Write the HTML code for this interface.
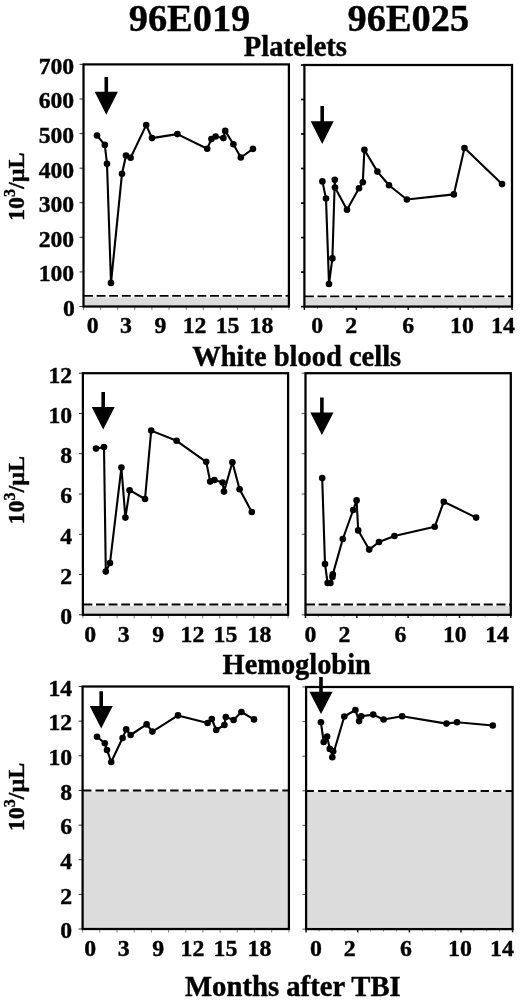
<!DOCTYPE html>
<html lang="en"><head><meta charset="utf-8"><title>Blood counts after TBI</title>
<style>html,body{margin:0;padding:0;background:#fff}body{width:520px;height:1001px;overflow:hidden}svg{display:block}text{font-family:"Liberation Serif","DejaVu Serif",serif;font-weight:bold;fill:#000;stroke:#000;stroke-width:0.4px;stroke-linejoin:round}</style>
</head><body>
<svg width="520" height="1001" viewBox="0 0 520 1001">
<rect width="520" height="1001" fill="#fff"/>
<g>
<rect x="83.5" y="297.4" width="205.4" height="9.1" fill="#dcdcdc"/>
<line x1="83.5" x2="288.9" y1="295.9" y2="295.9" stroke="#000" stroke-width="1.8" stroke-dasharray="8.9 3.7" stroke-dashoffset="-0.5"/>
<line x1="79.5" x2="83.5" y1="64.4" y2="64.4" stroke="#333" stroke-width="1"/>
<line x1="79.5" x2="83.5" y1="99.0" y2="99.0" stroke="#333" stroke-width="1"/>
<line x1="79.5" x2="83.5" y1="133.6" y2="133.6" stroke="#333" stroke-width="1"/>
<line x1="79.5" x2="83.5" y1="168.2" y2="168.2" stroke="#333" stroke-width="1"/>
<line x1="79.5" x2="83.5" y1="202.7" y2="202.7" stroke="#333" stroke-width="1"/>
<line x1="79.5" x2="83.5" y1="237.3" y2="237.3" stroke="#333" stroke-width="1"/>
<line x1="79.5" x2="83.5" y1="271.9" y2="271.9" stroke="#333" stroke-width="1"/>
<line x1="79.5" x2="83.5" y1="306.5" y2="306.5" stroke="#333" stroke-width="1"/>
<line x1="83.5" x2="83.5" y1="306.5" y2="310.1" stroke="#666" stroke-width="0.8"/>
<line x1="100.6" x2="100.6" y1="306.5" y2="310.1" stroke="#666" stroke-width="0.8"/>
<line x1="117.7" x2="117.7" y1="306.5" y2="310.1" stroke="#666" stroke-width="0.8"/>
<line x1="134.8" x2="134.8" y1="306.5" y2="310.1" stroke="#666" stroke-width="0.8"/>
<line x1="151.9" x2="151.9" y1="306.5" y2="310.1" stroke="#666" stroke-width="0.8"/>
<line x1="169.0" x2="169.0" y1="306.5" y2="310.1" stroke="#666" stroke-width="0.8"/>
<line x1="186.2" x2="186.2" y1="306.5" y2="310.1" stroke="#666" stroke-width="0.8"/>
<line x1="203.3" x2="203.3" y1="306.5" y2="310.1" stroke="#666" stroke-width="0.8"/>
<line x1="220.4" x2="220.4" y1="306.5" y2="310.1" stroke="#666" stroke-width="0.8"/>
<line x1="237.5" x2="237.5" y1="306.5" y2="310.1" stroke="#666" stroke-width="0.8"/>
<line x1="254.6" x2="254.6" y1="306.5" y2="310.1" stroke="#666" stroke-width="0.8"/>
<line x1="271.7" x2="271.7" y1="306.5" y2="310.1" stroke="#666" stroke-width="0.8"/>
<line x1="288.9" x2="288.9" y1="306.5" y2="310.1" stroke="#666" stroke-width="0.8"/>
<rect x="83.5" y="64.4" width="205.4" height="242.1" fill="none" stroke="#000" stroke-width="2.25"/>
<polyline fill="none" stroke="#000" stroke-width="2.1" stroke-linejoin="round" points="97.0,135.5 104.8,144.9 107.0,163.7 111.0,282.9 122.0,173.7 126.0,155.5 130.6,157.7 146.2,125.1 152.0,138.1 177.4,134.1 207.2,148.7 211.4,139.1 215.6,136.5 223.4,138.1 225.2,130.9 233.4,144.3 240.8,157.5 253.0,148.9"/>
<circle cx="97.0" cy="135.5" r="3.3"/>
<circle cx="104.8" cy="144.9" r="3.3"/>
<circle cx="107.0" cy="163.7" r="3.3"/>
<circle cx="111.0" cy="282.9" r="3.3"/>
<circle cx="122.0" cy="173.7" r="3.3"/>
<circle cx="126.0" cy="155.5" r="3.3"/>
<circle cx="130.6" cy="157.7" r="3.3"/>
<circle cx="146.2" cy="125.1" r="3.3"/>
<circle cx="152.0" cy="138.1" r="3.3"/>
<circle cx="177.4" cy="134.1" r="3.3"/>
<circle cx="207.2" cy="148.7" r="3.3"/>
<circle cx="211.4" cy="139.1" r="3.3"/>
<circle cx="215.6" cy="136.5" r="3.3"/>
<circle cx="223.4" cy="138.1" r="3.3"/>
<circle cx="225.2" cy="130.9" r="3.3"/>
<circle cx="233.4" cy="144.3" r="3.3"/>
<circle cx="240.8" cy="157.5" r="3.3"/>
<circle cx="253.0" cy="148.9" r="3.3"/>
<path d="M104.5 77.0H108.1V91.7H117.9L106.3 114.8L94.7 91.7H104.5Z"/>
<text x="92.7" y="333.3" font-size="23.8" text-anchor="middle">0</text>
<text x="125.9" y="333.3" font-size="23.8" text-anchor="middle">3</text>
<text x="160.4" y="333.3" font-size="23.8" text-anchor="middle">9</text>
<text x="194.6" y="333.3" font-size="23.8" text-anchor="middle">12</text>
<text x="227.6" y="333.3" font-size="23.8" text-anchor="middle">15</text>
<text x="261.5" y="333.3" font-size="23.8" text-anchor="middle">18</text>
<text x="74.2" y="73.7" font-size="23.7" text-anchor="end">700</text>
<text x="74.2" y="108.3" font-size="23.7" text-anchor="end">600</text>
<text x="74.2" y="142.9" font-size="23.7" text-anchor="end">500</text>
<text x="74.2" y="177.5" font-size="23.7" text-anchor="end">400</text>
<text x="74.2" y="212.0" font-size="23.7" text-anchor="end">300</text>
<text x="74.2" y="246.6" font-size="23.7" text-anchor="end">200</text>
<text x="74.2" y="281.2" font-size="23.7" text-anchor="end">100</text>
<text x="74.9" y="315.8" font-size="23.7" text-anchor="end">0</text>
<text transform="translate(23.9 186.7) rotate(-90)" font-size="23.9" text-anchor="middle">10<tspan font-size="16.3" dy="-8.5">3</tspan><tspan dy="8.5">/µL</tspan></text>
</g>
<g>
<rect x="304.4" y="297.8" width="207.6" height="8.8" fill="#dcdcdc"/>
<line x1="304.4" x2="512.0" y1="296.3" y2="296.3" stroke="#000" stroke-width="1.8" stroke-dasharray="9.1 3.6" stroke-dashoffset="-0.4"/>
<line x1="301.0" x2="304.4" y1="65.0" y2="65.0" stroke="#000" stroke-width="1.7"/>
<line x1="301.0" x2="304.4" y1="99.5" y2="99.5" stroke="#000" stroke-width="1.7"/>
<line x1="301.0" x2="304.4" y1="134.0" y2="134.0" stroke="#000" stroke-width="1.7"/>
<line x1="301.0" x2="304.4" y1="168.5" y2="168.5" stroke="#000" stroke-width="1.7"/>
<line x1="301.0" x2="304.4" y1="203.1" y2="203.1" stroke="#000" stroke-width="1.7"/>
<line x1="301.0" x2="304.4" y1="237.6" y2="237.6" stroke="#000" stroke-width="1.7"/>
<line x1="301.0" x2="304.4" y1="272.1" y2="272.1" stroke="#000" stroke-width="1.7"/>
<line x1="301.0" x2="304.4" y1="306.6" y2="306.6" stroke="#000" stroke-width="1.7"/>
<line x1="304.4" x2="304.4" y1="306.6" y2="309.9" stroke="#111" stroke-width="1.5"/>
<line x1="317.4" x2="317.4" y1="306.6" y2="309.0" stroke="#777" stroke-width="0.8"/>
<line x1="330.3" x2="330.3" y1="306.6" y2="309.0" stroke="#777" stroke-width="0.8"/>
<line x1="343.3" x2="343.3" y1="306.6" y2="309.0" stroke="#777" stroke-width="0.8"/>
<line x1="356.3" x2="356.3" y1="306.6" y2="309.9" stroke="#111" stroke-width="1.5"/>
<line x1="369.3" x2="369.3" y1="306.6" y2="309.0" stroke="#777" stroke-width="0.8"/>
<line x1="382.2" x2="382.2" y1="306.6" y2="309.0" stroke="#777" stroke-width="0.8"/>
<line x1="395.2" x2="395.2" y1="306.6" y2="309.0" stroke="#777" stroke-width="0.8"/>
<line x1="408.2" x2="408.2" y1="306.6" y2="309.9" stroke="#111" stroke-width="1.5"/>
<line x1="421.2" x2="421.2" y1="306.6" y2="309.0" stroke="#777" stroke-width="0.8"/>
<line x1="434.1" x2="434.1" y1="306.6" y2="309.0" stroke="#777" stroke-width="0.8"/>
<line x1="447.1" x2="447.1" y1="306.6" y2="309.0" stroke="#777" stroke-width="0.8"/>
<line x1="460.1" x2="460.1" y1="306.6" y2="309.9" stroke="#111" stroke-width="1.5"/>
<line x1="473.1" x2="473.1" y1="306.6" y2="309.0" stroke="#777" stroke-width="0.8"/>
<line x1="486.1" x2="486.1" y1="306.6" y2="309.0" stroke="#777" stroke-width="0.8"/>
<line x1="499.0" x2="499.0" y1="306.6" y2="309.0" stroke="#777" stroke-width="0.8"/>
<line x1="512.0" x2="512.0" y1="306.6" y2="309.9" stroke="#111" stroke-width="1.5"/>
<rect x="304.4" y="65.0" width="207.6" height="241.6" fill="none" stroke="#000" stroke-width="2.25"/>
<polyline fill="none" stroke="#000" stroke-width="2.1" stroke-linejoin="round" points="322.4,181.4 326.0,198.6 329.0,284.0 332.4,258.4 334.8,179.8 335.0,187.6 347.0,209.8 359.0,188.2 362.8,182.2 364.4,149.8 377.4,171.6 389.0,185.2 406.9,199.5 453.8,194.4 464.5,148.0 502.0,184.1"/>
<circle cx="322.4" cy="181.4" r="3.3"/>
<circle cx="326.0" cy="198.6" r="3.3"/>
<circle cx="329.0" cy="284.0" r="3.3"/>
<circle cx="332.4" cy="258.4" r="3.3"/>
<circle cx="334.8" cy="179.8" r="3.3"/>
<circle cx="335.0" cy="187.6" r="3.3"/>
<circle cx="347.0" cy="209.8" r="3.3"/>
<circle cx="359.0" cy="188.2" r="3.3"/>
<circle cx="362.8" cy="182.2" r="3.3"/>
<circle cx="364.4" cy="149.8" r="3.3"/>
<circle cx="377.4" cy="171.6" r="3.3"/>
<circle cx="389.0" cy="185.2" r="3.3"/>
<circle cx="406.9" cy="199.5" r="3.3"/>
<circle cx="453.8" cy="194.4" r="3.3"/>
<circle cx="464.5" cy="148.0" r="3.3"/>
<circle cx="502.0" cy="184.1" r="3.3"/>
<path d="M320.4 106.0H324.0V121.2H333.7L322.2 144.0L310.7 121.2H320.4Z"/>
<text x="317.1" y="333.3" font-size="23.8" text-anchor="middle">0</text>
<text x="351.2" y="333.3" font-size="23.8" text-anchor="middle">2</text>
<text x="408.1" y="333.3" font-size="23.8" text-anchor="middle">6</text>
<text x="462.0" y="333.3" font-size="23.8" text-anchor="middle">10</text>
<text x="503.0" y="333.3" font-size="23.8" text-anchor="middle">14</text>
</g>
<g>
<rect x="82.9" y="606.0" width="205.2" height="8.8" fill="#dcdcdc"/>
<line x1="82.9" x2="288.1" y1="604.5" y2="604.5" stroke="#000" stroke-width="1.8" stroke-dasharray="8.9 3.7" stroke-dashoffset="-0.5"/>
<line x1="78.9" x2="82.9" y1="373.2" y2="373.2" stroke="#333" stroke-width="1"/>
<line x1="78.9" x2="82.9" y1="413.5" y2="413.5" stroke="#333" stroke-width="1"/>
<line x1="78.9" x2="82.9" y1="453.7" y2="453.7" stroke="#333" stroke-width="1"/>
<line x1="78.9" x2="82.9" y1="494.0" y2="494.0" stroke="#333" stroke-width="1"/>
<line x1="78.9" x2="82.9" y1="534.3" y2="534.3" stroke="#333" stroke-width="1"/>
<line x1="78.9" x2="82.9" y1="574.5" y2="574.5" stroke="#333" stroke-width="1"/>
<line x1="78.9" x2="82.9" y1="614.8" y2="614.8" stroke="#333" stroke-width="1"/>
<line x1="82.9" x2="82.9" y1="614.8" y2="618.4" stroke="#666" stroke-width="0.8"/>
<line x1="100.0" x2="100.0" y1="614.8" y2="618.4" stroke="#666" stroke-width="0.8"/>
<line x1="117.1" x2="117.1" y1="614.8" y2="618.4" stroke="#666" stroke-width="0.8"/>
<line x1="134.2" x2="134.2" y1="614.8" y2="618.4" stroke="#666" stroke-width="0.8"/>
<line x1="151.3" x2="151.3" y1="614.8" y2="618.4" stroke="#666" stroke-width="0.8"/>
<line x1="168.4" x2="168.4" y1="614.8" y2="618.4" stroke="#666" stroke-width="0.8"/>
<line x1="185.5" x2="185.5" y1="614.8" y2="618.4" stroke="#666" stroke-width="0.8"/>
<line x1="202.6" x2="202.6" y1="614.8" y2="618.4" stroke="#666" stroke-width="0.8"/>
<line x1="219.7" x2="219.7" y1="614.8" y2="618.4" stroke="#666" stroke-width="0.8"/>
<line x1="236.8" x2="236.8" y1="614.8" y2="618.4" stroke="#666" stroke-width="0.8"/>
<line x1="253.9" x2="253.9" y1="614.8" y2="618.4" stroke="#666" stroke-width="0.8"/>
<line x1="271.0" x2="271.0" y1="614.8" y2="618.4" stroke="#666" stroke-width="0.8"/>
<line x1="288.1" x2="288.1" y1="614.8" y2="618.4" stroke="#666" stroke-width="0.8"/>
<rect x="82.9" y="373.2" width="205.2" height="241.6" fill="none" stroke="#000" stroke-width="2.25"/>
<polyline fill="none" stroke="#000" stroke-width="2.1" stroke-linejoin="round" points="96.0,448.6 104.0,447.0 105.8,571.6 110.0,563.0 121.4,467.6 125.4,517.6 129.6,490.2 145.0,499.0 151.2,430.6 176.6,440.8 206.2,461.8 210.2,481.6 214.4,480.0 222.6,482.6 224.0,491.6 232.4,462.2 239.6,489.2 251.8,512.0"/>
<circle cx="96.0" cy="448.6" r="3.3"/>
<circle cx="104.0" cy="447.0" r="3.3"/>
<circle cx="105.8" cy="571.6" r="3.3"/>
<circle cx="110.0" cy="563.0" r="3.3"/>
<circle cx="121.4" cy="467.6" r="3.3"/>
<circle cx="125.4" cy="517.6" r="3.3"/>
<circle cx="129.6" cy="490.2" r="3.3"/>
<circle cx="145.0" cy="499.0" r="3.3"/>
<circle cx="151.2" cy="430.6" r="3.3"/>
<circle cx="176.6" cy="440.8" r="3.3"/>
<circle cx="206.2" cy="461.8" r="3.3"/>
<circle cx="210.2" cy="481.6" r="3.3"/>
<circle cx="214.4" cy="480.0" r="3.3"/>
<circle cx="222.6" cy="482.6" r="3.3"/>
<circle cx="224.0" cy="491.6" r="3.3"/>
<circle cx="232.4" cy="462.2" r="3.3"/>
<circle cx="239.6" cy="489.2" r="3.3"/>
<circle cx="251.8" cy="512.0" r="3.3"/>
<path d="M101.4 392.0H105.0V406.9H114.7L103.2 429.5L91.7 406.9H101.4Z"/>
<text x="90.3" y="641.6" font-size="23.8" text-anchor="middle">0</text>
<text x="123.8" y="641.6" font-size="23.8" text-anchor="middle">3</text>
<text x="158.3" y="641.6" font-size="23.8" text-anchor="middle">9</text>
<text x="192.5" y="641.6" font-size="23.8" text-anchor="middle">12</text>
<text x="225.5" y="641.6" font-size="23.8" text-anchor="middle">15</text>
<text x="259.4" y="641.6" font-size="23.8" text-anchor="middle">18</text>
<text x="72.2" y="382.5" font-size="23.7" text-anchor="end">12</text>
<text x="72.2" y="422.8" font-size="23.7" text-anchor="end">10</text>
<text x="72.2" y="463.0" font-size="23.7" text-anchor="end">8</text>
<text x="72.2" y="503.3" font-size="23.7" text-anchor="end">6</text>
<text x="72.2" y="543.6" font-size="23.7" text-anchor="end">4</text>
<text x="72.2" y="583.8" font-size="23.7" text-anchor="end">2</text>
<text x="72.2" y="624.1" font-size="23.7" text-anchor="end">0</text>
<text transform="translate(23.9 490.2) rotate(-90)" font-size="23.9" text-anchor="middle">10<tspan font-size="16.3" dy="-8.5">3</tspan><tspan dy="8.5">/µL</tspan></text>
</g>
<g>
<rect x="305.5" y="606.0" width="205.3" height="8.8" fill="#dcdcdc"/>
<line x1="305.5" x2="510.8" y1="604.5" y2="604.5" stroke="#000" stroke-width="1.8" stroke-dasharray="9.1 3.6" stroke-dashoffset="-0.4"/>
<line x1="301.7" x2="305.5" y1="373.2" y2="373.2" stroke="#555" stroke-width="1"/>
<line x1="301.7" x2="305.5" y1="413.5" y2="413.5" stroke="#555" stroke-width="1"/>
<line x1="301.7" x2="305.5" y1="453.7" y2="453.7" stroke="#555" stroke-width="1"/>
<line x1="301.7" x2="305.5" y1="494.0" y2="494.0" stroke="#555" stroke-width="1"/>
<line x1="301.7" x2="305.5" y1="534.3" y2="534.3" stroke="#555" stroke-width="1"/>
<line x1="301.7" x2="305.5" y1="574.5" y2="574.5" stroke="#555" stroke-width="1"/>
<line x1="301.7" x2="305.5" y1="614.8" y2="614.8" stroke="#555" stroke-width="1"/>
<line x1="305.5" x2="305.5" y1="614.8" y2="618.1" stroke="#111" stroke-width="1.5"/>
<line x1="318.3" x2="318.3" y1="614.8" y2="617.2" stroke="#777" stroke-width="0.8"/>
<line x1="331.2" x2="331.2" y1="614.8" y2="617.2" stroke="#777" stroke-width="0.8"/>
<line x1="344.0" x2="344.0" y1="614.8" y2="617.2" stroke="#777" stroke-width="0.8"/>
<line x1="356.8" x2="356.8" y1="614.8" y2="618.1" stroke="#111" stroke-width="1.5"/>
<line x1="369.7" x2="369.7" y1="614.8" y2="617.2" stroke="#777" stroke-width="0.8"/>
<line x1="382.5" x2="382.5" y1="614.8" y2="617.2" stroke="#777" stroke-width="0.8"/>
<line x1="395.3" x2="395.3" y1="614.8" y2="617.2" stroke="#777" stroke-width="0.8"/>
<line x1="408.1" x2="408.1" y1="614.8" y2="618.1" stroke="#111" stroke-width="1.5"/>
<line x1="421.0" x2="421.0" y1="614.8" y2="617.2" stroke="#777" stroke-width="0.8"/>
<line x1="433.8" x2="433.8" y1="614.8" y2="617.2" stroke="#777" stroke-width="0.8"/>
<line x1="446.6" x2="446.6" y1="614.8" y2="617.2" stroke="#777" stroke-width="0.8"/>
<line x1="459.5" x2="459.5" y1="614.8" y2="618.1" stroke="#111" stroke-width="1.5"/>
<line x1="472.3" x2="472.3" y1="614.8" y2="617.2" stroke="#777" stroke-width="0.8"/>
<line x1="485.1" x2="485.1" y1="614.8" y2="617.2" stroke="#777" stroke-width="0.8"/>
<line x1="498.0" x2="498.0" y1="614.8" y2="617.2" stroke="#777" stroke-width="0.8"/>
<line x1="510.8" x2="510.8" y1="614.8" y2="618.1" stroke="#111" stroke-width="1.5"/>
<rect x="305.5" y="373.2" width="205.3" height="241.6" fill="none" stroke="#000" stroke-width="2.25"/>
<polyline fill="none" stroke="#000" stroke-width="2.1" stroke-linejoin="round" points="322.2,478.0 325.0,564.0 327.6,583.0 330.4,583.0 332.4,577.0 332.8,574.4 342.8,539.0 353.2,510.0 356.6,500.4 358.2,530.4 369.2,549.6 379.0,542.0 394.4,536.0 434.7,526.8 443.8,501.7 476.1,517.6"/>
<circle cx="322.2" cy="478.0" r="3.3"/>
<circle cx="325.0" cy="564.0" r="3.3"/>
<circle cx="327.6" cy="583.0" r="3.3"/>
<circle cx="330.4" cy="583.0" r="3.3"/>
<circle cx="332.4" cy="577.0" r="3.3"/>
<circle cx="332.8" cy="574.4" r="3.3"/>
<circle cx="342.8" cy="539.0" r="3.3"/>
<circle cx="353.2" cy="510.0" r="3.3"/>
<circle cx="356.6" cy="500.4" r="3.3"/>
<circle cx="358.2" cy="530.4" r="3.3"/>
<circle cx="369.2" cy="549.6" r="3.3"/>
<circle cx="379.0" cy="542.0" r="3.3"/>
<circle cx="394.4" cy="536.0" r="3.3"/>
<circle cx="434.7" cy="526.8" r="3.3"/>
<circle cx="443.8" cy="501.7" r="3.3"/>
<circle cx="476.1" cy="517.6" r="3.3"/>
<path d="M320.1 397.5H323.7V412.4H333.5L321.9 434.9L310.3 412.4H320.1Z"/>
<text x="310.4" y="641.6" font-size="23.8" text-anchor="middle">0</text>
<text x="344.4" y="641.6" font-size="23.8" text-anchor="middle">2</text>
<text x="400.5" y="641.6" font-size="23.8" text-anchor="middle">6</text>
<text x="454.8" y="641.6" font-size="23.8" text-anchor="middle">10</text>
<text x="497.1" y="641.6" font-size="23.8" text-anchor="middle">14</text>
</g>
<g>
<rect x="82.6" y="791.4" width="206.3" height="137.6" fill="#dcdcdc"/>
<line x1="82.6" x2="288.9" y1="790.4" y2="790.4" stroke="#000" stroke-width="2.0" stroke-dasharray="8.4 4.05" stroke-dashoffset="-0.45"/>
<line x1="78.6" x2="82.6" y1="686.5" y2="686.5" stroke="#333" stroke-width="1"/>
<line x1="78.6" x2="82.6" y1="721.1" y2="721.1" stroke="#333" stroke-width="1"/>
<line x1="78.6" x2="82.6" y1="755.8" y2="755.8" stroke="#333" stroke-width="1"/>
<line x1="78.6" x2="82.6" y1="790.4" y2="790.4" stroke="#333" stroke-width="1"/>
<line x1="78.6" x2="82.6" y1="825.1" y2="825.1" stroke="#333" stroke-width="1"/>
<line x1="78.6" x2="82.6" y1="859.7" y2="859.7" stroke="#333" stroke-width="1"/>
<line x1="78.6" x2="82.6" y1="894.4" y2="894.4" stroke="#333" stroke-width="1"/>
<line x1="78.6" x2="82.6" y1="929.0" y2="929.0" stroke="#333" stroke-width="1"/>
<line x1="82.6" x2="82.6" y1="929.0" y2="932.6" stroke="#666" stroke-width="0.8"/>
<line x1="99.8" x2="99.8" y1="929.0" y2="932.6" stroke="#666" stroke-width="0.8"/>
<line x1="117.0" x2="117.0" y1="929.0" y2="932.6" stroke="#666" stroke-width="0.8"/>
<line x1="134.2" x2="134.2" y1="929.0" y2="932.6" stroke="#666" stroke-width="0.8"/>
<line x1="151.4" x2="151.4" y1="929.0" y2="932.6" stroke="#666" stroke-width="0.8"/>
<line x1="168.6" x2="168.6" y1="929.0" y2="932.6" stroke="#666" stroke-width="0.8"/>
<line x1="185.8" x2="185.8" y1="929.0" y2="932.6" stroke="#666" stroke-width="0.8"/>
<line x1="202.9" x2="202.9" y1="929.0" y2="932.6" stroke="#666" stroke-width="0.8"/>
<line x1="220.1" x2="220.1" y1="929.0" y2="932.6" stroke="#666" stroke-width="0.8"/>
<line x1="237.3" x2="237.3" y1="929.0" y2="932.6" stroke="#666" stroke-width="0.8"/>
<line x1="254.5" x2="254.5" y1="929.0" y2="932.6" stroke="#666" stroke-width="0.8"/>
<line x1="271.7" x2="271.7" y1="929.0" y2="932.6" stroke="#666" stroke-width="0.8"/>
<line x1="288.9" x2="288.9" y1="929.0" y2="932.6" stroke="#666" stroke-width="0.8"/>
<rect x="82.6" y="686.5" width="206.3" height="242.5" fill="none" stroke="#000" stroke-width="2.25"/>
<polyline fill="none" stroke="#000" stroke-width="2.1" stroke-linejoin="round" points="97.0,736.8 104.8,743.2 107.0,750.0 111.2,762.0 122.6,738.0 126.2,729.4 130.6,735.0 146.6,724.4 152.4,731.6 178.0,715.4 207.6,723.0 211.8,719.0 216.2,730.0 224.4,725.0 225.8,717.0 233.6,720.0 241.4,712.0 254.0,719.4"/>
<circle cx="97.0" cy="736.8" r="3.3"/>
<circle cx="104.8" cy="743.2" r="3.3"/>
<circle cx="107.0" cy="750.0" r="3.3"/>
<circle cx="111.2" cy="762.0" r="3.3"/>
<circle cx="122.6" cy="738.0" r="3.3"/>
<circle cx="126.2" cy="729.4" r="3.3"/>
<circle cx="130.6" cy="735.0" r="3.3"/>
<circle cx="146.6" cy="724.4" r="3.3"/>
<circle cx="152.4" cy="731.6" r="3.3"/>
<circle cx="178.0" cy="715.4" r="3.3"/>
<circle cx="207.6" cy="723.0" r="3.3"/>
<circle cx="211.8" cy="719.0" r="3.3"/>
<circle cx="216.2" cy="730.0" r="3.3"/>
<circle cx="224.4" cy="725.0" r="3.3"/>
<circle cx="225.8" cy="717.0" r="3.3"/>
<circle cx="233.6" cy="720.0" r="3.3"/>
<circle cx="241.4" cy="712.0" r="3.3"/>
<circle cx="254.0" cy="719.4" r="3.3"/>
<path d="M99.4 691.3H103.0V706.1H112.7L101.2 728.6L89.7 706.1H99.4Z"/>
<text x="90.3" y="956.2" font-size="23.8" text-anchor="middle">0</text>
<text x="123.8" y="956.2" font-size="23.8" text-anchor="middle">3</text>
<text x="158.3" y="956.2" font-size="23.8" text-anchor="middle">9</text>
<text x="192.5" y="956.2" font-size="23.8" text-anchor="middle">12</text>
<text x="225.5" y="956.2" font-size="23.8" text-anchor="middle">15</text>
<text x="259.4" y="956.2" font-size="23.8" text-anchor="middle">18</text>
<text x="72.2" y="695.8" font-size="23.7" text-anchor="end">14</text>
<text x="72.2" y="730.4" font-size="23.7" text-anchor="end">12</text>
<text x="72.2" y="765.1" font-size="23.7" text-anchor="end">10</text>
<text x="72.2" y="799.7" font-size="23.7" text-anchor="end">8</text>
<text x="72.2" y="834.4" font-size="23.7" text-anchor="end">6</text>
<text x="72.2" y="869.0" font-size="23.7" text-anchor="end">4</text>
<text x="72.2" y="903.7" font-size="23.7" text-anchor="end">2</text>
<text x="72.2" y="938.3" font-size="23.7" text-anchor="end">0</text>
<text transform="translate(23.9 797.0) rotate(-90)" font-size="23.9" text-anchor="middle">10<tspan font-size="16.3" dy="-8.5">3</tspan><tspan dy="8.5">/µL</tspan></text>
</g>
<g>
<rect x="306.1" y="791.9" width="206.5" height="137.2" fill="#dcdcdc"/>
<line x1="306.1" x2="512.6" y1="790.9" y2="790.9" stroke="#000" stroke-width="1.95" stroke-dasharray="8.3 4.2" stroke-dashoffset="0.5"/>
<line x1="302.3" x2="306.1" y1="687.0" y2="687.0" stroke="#555" stroke-width="1"/>
<line x1="302.3" x2="306.1" y1="721.6" y2="721.6" stroke="#555" stroke-width="1"/>
<line x1="302.3" x2="306.1" y1="756.2" y2="756.2" stroke="#555" stroke-width="1"/>
<line x1="302.3" x2="306.1" y1="790.8" y2="790.8" stroke="#555" stroke-width="1"/>
<line x1="302.3" x2="306.1" y1="825.3" y2="825.3" stroke="#555" stroke-width="1"/>
<line x1="302.3" x2="306.1" y1="859.9" y2="859.9" stroke="#555" stroke-width="1"/>
<line x1="302.3" x2="306.1" y1="894.5" y2="894.5" stroke="#555" stroke-width="1"/>
<line x1="302.3" x2="306.1" y1="929.1" y2="929.1" stroke="#555" stroke-width="1"/>
<line x1="306.1" x2="306.1" y1="929.1" y2="932.4" stroke="#111" stroke-width="1.5"/>
<line x1="319.0" x2="319.0" y1="929.1" y2="931.5" stroke="#777" stroke-width="0.8"/>
<line x1="331.9" x2="331.9" y1="929.1" y2="931.5" stroke="#777" stroke-width="0.8"/>
<line x1="344.8" x2="344.8" y1="929.1" y2="931.5" stroke="#777" stroke-width="0.8"/>
<line x1="357.7" x2="357.7" y1="929.1" y2="932.4" stroke="#111" stroke-width="1.5"/>
<line x1="370.6" x2="370.6" y1="929.1" y2="931.5" stroke="#777" stroke-width="0.8"/>
<line x1="383.5" x2="383.5" y1="929.1" y2="931.5" stroke="#777" stroke-width="0.8"/>
<line x1="396.4" x2="396.4" y1="929.1" y2="931.5" stroke="#777" stroke-width="0.8"/>
<line x1="409.4" x2="409.4" y1="929.1" y2="932.4" stroke="#111" stroke-width="1.5"/>
<line x1="422.3" x2="422.3" y1="929.1" y2="931.5" stroke="#777" stroke-width="0.8"/>
<line x1="435.2" x2="435.2" y1="929.1" y2="931.5" stroke="#777" stroke-width="0.8"/>
<line x1="448.1" x2="448.1" y1="929.1" y2="931.5" stroke="#777" stroke-width="0.8"/>
<line x1="461.0" x2="461.0" y1="929.1" y2="932.4" stroke="#111" stroke-width="1.5"/>
<line x1="473.9" x2="473.9" y1="929.1" y2="931.5" stroke="#777" stroke-width="0.8"/>
<line x1="486.8" x2="486.8" y1="929.1" y2="931.5" stroke="#777" stroke-width="0.8"/>
<line x1="499.7" x2="499.7" y1="929.1" y2="931.5" stroke="#777" stroke-width="0.8"/>
<line x1="512.6" x2="512.6" y1="929.1" y2="932.4" stroke="#111" stroke-width="1.5"/>
<rect x="306.1" y="687.0" width="206.5" height="242.1" fill="none" stroke="#000" stroke-width="2.25"/>
<polyline fill="none" stroke="#000" stroke-width="2.1" stroke-linejoin="round" points="320.9,722.3 323.7,742.0 327.1,736.6 329.8,748.9 333.2,751.2 332.3,757.2 344.3,716.5 355.4,710.0 359.1,721.1 361.2,716.2 373.2,714.6 383.6,719.5 402.1,716.3 446.5,723.6 457.0,722.3 492.8,725.5"/>
<circle cx="320.9" cy="722.3" r="3.3"/>
<circle cx="323.7" cy="742.0" r="3.3"/>
<circle cx="327.1" cy="736.6" r="3.3"/>
<circle cx="329.8" cy="748.9" r="3.3"/>
<circle cx="333.2" cy="751.2" r="3.3"/>
<circle cx="332.3" cy="757.2" r="3.3"/>
<circle cx="344.3" cy="716.5" r="3.3"/>
<circle cx="355.4" cy="710.0" r="3.3"/>
<circle cx="359.1" cy="721.1" r="3.3"/>
<circle cx="361.2" cy="716.2" r="3.3"/>
<circle cx="373.2" cy="714.6" r="3.3"/>
<circle cx="383.6" cy="719.5" r="3.3"/>
<circle cx="402.1" cy="716.3" r="3.3"/>
<circle cx="446.5" cy="723.6" r="3.3"/>
<circle cx="457.0" cy="722.3" r="3.3"/>
<circle cx="492.8" cy="725.5" r="3.3"/>
<path d="M319.2 677.0H322.8V691.7H332.6L321.0 713.9L309.4 691.7H319.2Z"/>
<text x="315.9" y="956.2" font-size="23.8" text-anchor="middle">0</text>
<text x="349.7" y="956.2" font-size="23.8" text-anchor="middle">2</text>
<text x="406.0" y="956.2" font-size="23.8" text-anchor="middle">6</text>
<text x="459.9" y="956.2" font-size="23.8" text-anchor="middle">10</text>
<text x="502.0" y="956.2" font-size="23.8" text-anchor="middle">14</text>
</g>
<text x="189.5" y="30.5" font-size="38.4" text-anchor="middle">96E019</text>
<text x="408.3" y="30.5" font-size="38.4" text-anchor="middle">96E025</text>
<text x="295.4" y="56" font-size="28.6" text-anchor="middle">Platelets</text>
<text x="296.7" y="365.7" font-size="28.5" text-anchor="middle">White blood cells</text>
<text x="296.7" y="674.4" font-size="28.4" text-anchor="middle">Hemoglobin</text>
<text x="292.9" y="996.2" font-size="28.7" text-anchor="middle">Months after TBI</text>
</svg>
</body></html>
